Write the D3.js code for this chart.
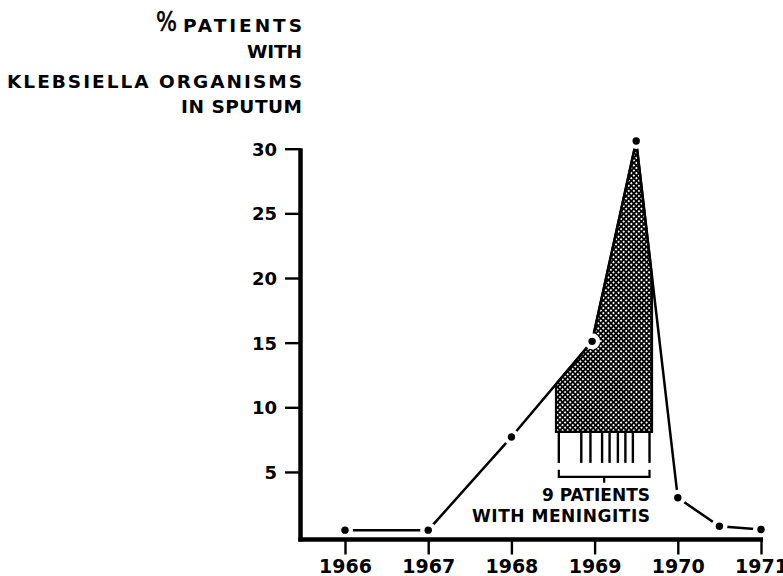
<!DOCTYPE html>
<html>
<head>
<meta charset="utf-8">
<script src="https://cdn.jsdelivr.net/npm/d3@7"></script>
<style>
  html, body { margin: 0; padding: 0; background: #fff; }
  svg { display: block; }
</style>
</head>
<body>
<svg id="chart" width="783" height="576"></svg>
<script>
// ---- data ----
const years = [1966, 1967, 1968, 1968.97, 1969.5, 1970, 1970.5, 1971];
const percentKlebsiella = [0.5, 0.5, 7.7, 15.1, 30.6, 3.0, 0.8, 0.55];
const yTickValues = [5, 10, 15, 20, 25, 30];
const xTickValues = [1966, 1967, 1968, 1969, 1970, 1971];
const meningitisCases = [1968.57, 1968.84, 1968.95, 1969.09, 1969.18, 1969.28, 1969.37, 1969.46, 1969.66];
const shadedSpan = [1968.536, 1969.69];
const shadedBase = 8.1;
const titleLines = ["PATIENTS", "WITH", "KLEBSIELLA ORGANISMS", "IN SPUTUM"];
const noteLines = ["9 PATIENTS", "WITH MENINGITIS"];

// ---- scales ----
const x = d3.scaleLinear().domain([1966, 1971]).range([345, 761]);
const y = d3.scaleLinear().domain([0, 30]).range([536.6, 148.7]);

const svg = d3.select("#chart");
const defs = svg.append("defs");
const pat = defs.append("pattern")
  .attr("id", "hatch").attr("patternUnits", "userSpaceOnUse")
  .attr("width", 3.6).attr("height", 3.6)
  .attr("patternTransform", "rotate(45)");
pat.append("rect").attr("width", 3.6).attr("height", 3.6).attr("fill", "#fff");
pat.append("line").attr("x1", 0).attr("x2", 3.6).attr("y1", 1.8).attr("y2", 1.8)
  .attr("stroke", "#000").attr("stroke-width", 1.75);
pat.append("line").attr("y1", 0).attr("y2", 3.6).attr("x1", 1.8).attr("x2", 1.8)
  .attr("stroke", "#000").attr("stroke-width", 1.75);

// ---- title ----
const titleFont = "'DejaVu Sans', 'Liberation Sans', Arial, sans-serif";
const title = svg.append("g").attr("font-family", titleFont).attr("fill", "#000")
  .attr("font-weight", "bold");
const titleLayout = [
  {baseline: 31.5, len: 119},
  {baseline: 58, len: 55},
  {baseline: 87.5, len: 295},
  {baseline: 113, len: 121}
];
titleLines.forEach((t, i) => {
  title.append("text").attr("x", 302).attr("y", titleLayout[i].baseline)
    .attr("text-anchor", "end").attr("font-size", 18.5)
    .attr("textLength", titleLayout[i].len).attr("lengthAdjust", "spacing")
    .text(t);
});
title.append("text").attr("x", 156).attr("y", 31).attr("font-size", 26)
  .attr("font-weight", "normal").attr("stroke", "#000").attr("stroke-width", 0.6)
  .attr("textLength", 21).attr("lengthAdjust", "spacingAndGlyphs").text("%");

// ---- shaded area ----
function curveAt(t) {
  for (let i = 0; i < years.length - 1; i++) {
    if (t >= years[i] && t <= years[i + 1]) {
      const f = (t - years[i]) / (years[i + 1] - years[i]);
      return percentKlebsiella[i] + f * (percentKlebsiella[i + 1] - percentKlebsiella[i]);
    }
  }
  return 0;
}
const polyPts = [[shadedSpan[0], shadedBase], [shadedSpan[0], curveAt(shadedSpan[0])]];
years.forEach((yr, i) => { if (yr > shadedSpan[0] && yr < shadedSpan[1]) polyPts.push([yr, percentKlebsiella[i]]); });
polyPts.push([shadedSpan[1], curveAt(shadedSpan[1])], [shadedSpan[1], shadedBase]);
svg.append("path")
  .attr("d", d3.line().x(d => x(d[0])).y(d => y(d[1]))(polyPts) + "Z")
  .attr("fill", "url(#hatch)").attr("stroke", "#000").attr("stroke-width", 2.2)
  .attr("stroke-linejoin", "miter");

// ---- meningitis case markers ----
const caseTop = y(shadedBase), caseBottom = caseTop + 31;
svg.append("g").selectAll("line").data(meningitisCases).join("line")
  .attr("x1", d => x(d)).attr("x2", d => x(d))
  .attr("y1", caseTop).attr("y2", caseBottom)
  .attr("stroke", "#000").attr("stroke-width", 2.4);
const bx0 = x(meningitisCases[0]), bx1 = x(meningitisCases[meningitisCases.length - 1]);
const by = caseBottom + 14;
svg.append("path")
  .attr("d", `M${bx0},${by - 7}V${by}H${bx1}V${by - 7}M${(bx0 + bx1) / 2},${by}v6`)
  .attr("fill", "none").attr("stroke", "#000").attr("stroke-width", 2.2);
const note = svg.append("g").attr("font-family", titleFont).attr("fill", "#000")
  .attr("font-weight", "bold").attr("font-size", 17)
  .attr("text-anchor", "end");
note.append("text").attr("x", 650).attr("y", 500.7)
  .attr("textLength", 108).attr("lengthAdjust", "spacing").text(noteLines[0]);
note.append("text").attr("x", 650).attr("y", 521.7)
  .attr("textLength", 178).attr("lengthAdjust", "spacing").text(noteLines[1]);

// ---- data line ----
const data = years.map((yr, i) => [yr, percentKlebsiella[i]]);
svg.append("path")
  .attr("d", d3.line().x(d => x(d[0])).y(d => y(d[1]))(data))
  .attr("fill", "none").attr("stroke", "#000").attr("stroke-width", 2.5)
  .attr("stroke-linejoin", "miter");
svg.append("g").selectAll("circle").data(data).join("circle")
  .attr("cx", d => x(d[0])).attr("cy", d => y(d[1])).attr("r", 8).attr("fill", "#fff");
svg.append("g").selectAll("circle").data(data).join("circle")
  .attr("cx", d => x(d[0])).attr("cy", d => y(d[1])).attr("r", 3.7).attr("fill", "#000");

// ---- axes ----
const labelFont = "'DejaVu Sans', 'Liberation Sans', Arial, sans-serif";
const axisY = 539.5, axisX = 300.5;
const yAxis = svg.append("g").attr("transform", `translate(${axisX},0)`)
  .call(d3.axisLeft(y).tickValues(yTickValues).tickSize(15.5).tickPadding(8).tickFormat(d3.format("d")));
yAxis.select(".domain").remove();
yAxis.selectAll(".tick line").attr("stroke", "#000").attr("stroke-width", 2.4);
yAxis.selectAll(".tick text").attr("font-family", labelFont).attr("font-weight", "bold")
  .attr("font-size", 18).attr("fill", "#000").attr("dy", "0.36em");

const xAxis = svg.append("g").attr("transform", `translate(0,${axisY})`)
  .call(d3.axisBottom(x).tickValues(xTickValues).tickSize(15).tickPadding(5).tickFormat(d3.format("d")));
xAxis.select(".domain").remove();
xAxis.selectAll(".tick line").attr("stroke", "#000").attr("stroke-width", 2.4);
xAxis.selectAll(".tick text").attr("font-family", labelFont).attr("font-weight", "bold")
  .attr("font-size", 19).attr("fill", "#000").attr("y", 20).attr("dy", "0.71em");

svg.append("line").attr("x1", axisX).attr("x2", axisX).attr("y1", y(30) - 0.5).attr("y2", axisY + 2)
  .attr("stroke", "#000").attr("stroke-width", 4.5);
svg.append("line").attr("x1", axisX - 2.2).attr("x2", x(1971) + 2).attr("y1", axisY).attr("y2", axisY)
  .attr("stroke", "#000").attr("stroke-width", 4.5);
</script>
</body>
</html>
